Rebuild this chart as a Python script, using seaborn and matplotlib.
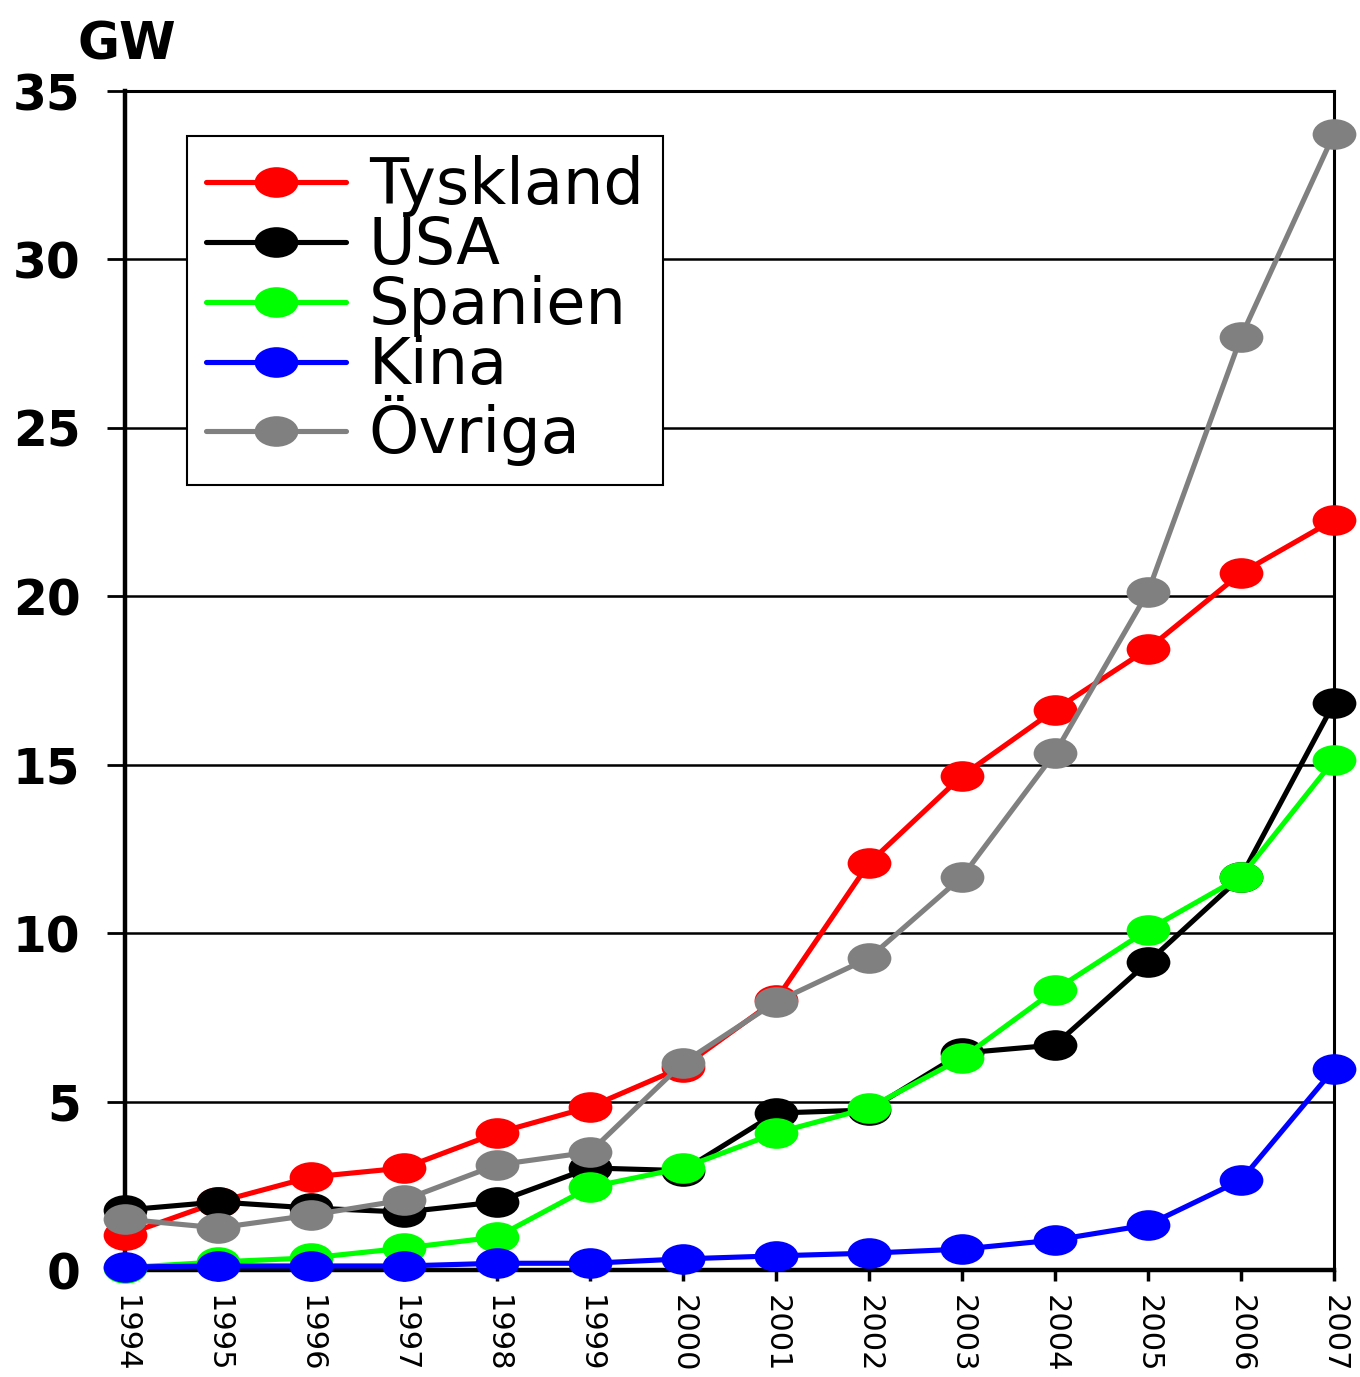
import matplotlib
matplotlib.use("Agg")
import matplotlib.pyplot as plt
import pandas as pd
import seaborn as sns
from matplotlib.path import Path
from matplotlib.transforms import Affine2D

years = list(range(1994, 2008))
tyskland = [1.04, 2.02, 2.76, 3.03, 4.07, 4.84, 6.03, 8.02, 12.08, 14.67, 16.63, 18.44, 20.69, 22.27]
usa = [1.78, 2.02, 1.84, 1.72, 2.02, 3.03, 2.95, 4.66, 4.75, 6.44, 6.68, 9.14, 11.67, 16.83]
spanien = [0.07, 0.24, 0.36, 0.65, 0.98, 2.46, 3.03, 4.07, 4.81, 6.29, 8.31, 10.1, 11.67, 15.14]
kina = [0.09, 0.12, 0.12, 0.12, 0.2, 0.2, 0.33, 0.42, 0.5, 0.62, 0.89, 1.34, 2.67, 5.97]
ovriga = [1.51, 1.25, 1.63, 2.08, 3.12, 3.5, 6.15, 7.96, 9.26, 11.67, 15.35, 20.13, 27.7, 33.73]

names = ["Tyskland", "USA", "Spanien", "Kina", "Övriga"]
colors = ["#ff0000", "#000000", "#00ff00", "#0000ff", "#808080"]
series = [tyskland, usa, spanien, kina, ovriga]

df = pd.concat(
    [pd.DataFrame({"year": years, "GW": vals, "land": name}) for name, vals in zip(names, series)],
    ignore_index=True,
)

sns.set_style("ticks")
plt.rcParams["font.family"] = ["DejaVu Sans"]
plt.rcParams["text.color"] = "black"
plt.rcParams["xtick.color"] = "black"
plt.rcParams["ytick.color"] = "black"
plt.rcParams["axes.labelcolor"] = "black"

fig = plt.figure(figsize=(13.6, 13.77), dpi=100)
ax = fig.add_axes([0.0919, 0.0777, 0.9809 - 0.0919, 0.9339 - 0.0777])

# flattened ellipse marker like the original
ellipse = Path.unit_circle().transformed(Affine2D().scale(1.0, 0.7))

sns.lineplot(
    data=df, x="year", y="GW", hue="land", hue_order=names,
    palette=dict(zip(names, colors)), marker=ellipse, markersize=31.5,
    markeredgewidth=0, linewidth=3.7, errorbar=None, legend=False,
    clip_on=False, zorder=3, ax=ax,
)

ax.set_xlim(1994, 2007)
ax.set_ylim(0, 35)
ax.set_xticks(years)
ax.set_xticklabels([str(y) for y in years], rotation=270, ha="center", va="top",
                   fontsize=22, color="black")
ax.set_yticks(range(0, 36, 5))
ax.set_yticklabels([str(v) for v in range(0, 36, 5)], fontsize=35, fontweight="bold",
                   color="black")
ax.set_xlabel("")
ax.set_ylabel("")

ax.grid(axis="y", color="black", linewidth=1.8)
ax.grid(axis="x", visible=False)
ax.set_axisbelow(True)

ax.tick_params(axis="y", direction="out", length=13, width=2, pad=19)
ax.tick_params(axis="x", direction="out", length=8, width=2.5, pad=10)

for side in ["left", "bottom"]:
    ax.spines[side].set_linewidth(3.2)
for side in ["right", "top"]:
    ax.spines[side].set_linewidth(2.2)
for sp in ax.spines.values():
    sp.set_color("black")

leg = ax.legend(
    handles=ax.get_lines()[:5], labels=names,
    loc="upper left", bbox_to_anchor=(0.051, 0.962), borderaxespad=0,
    fontsize=46, handlelength=2.2, handletextpad=0.35, borderpad=0.3,
    labelspacing=-0.03, frameon=True, fancybox=False, framealpha=1,
    edgecolor="black",
)
leg.get_frame().set_linewidth(1.5)
leg.set_zorder(5)
for t in leg.get_texts():
    t.set_color("black")

fig.text(78 / 1360, 1 - 60 / 1377, "GW", fontsize=37, fontweight="bold",
         va="baseline", ha="left", color="black")

plt.savefig("out.png", dpi=100)
